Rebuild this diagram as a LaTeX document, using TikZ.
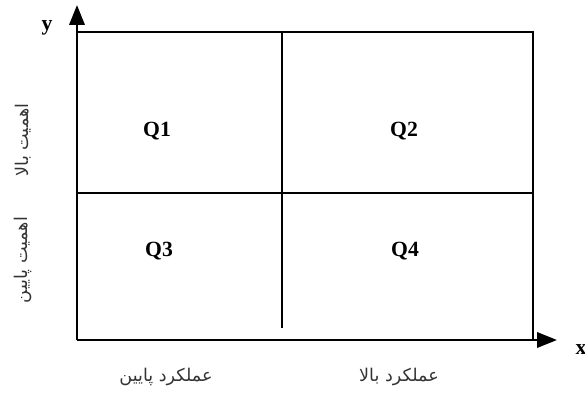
\documentclass[tikz,border=0pt]{standalone}
\usepackage{fontspec}
\setmainfont{Liberation Serif}
\newfontfamily\arabicfont[Script=Arabic]{DejaVu Sans}
\TeXXeTstate=1
\usetikzlibrary{arrows.meta}

\tikzset{
  quad/.style={font=\fontsize{18.5}{22}\selectfont\bfseries},
  axlabel/.style={font=\fontsize{18.5}{22}\selectfont\bfseries},
  fa/.style={font=\arabicfont\fontsize{15}{18}\selectfont, text=black!80},
}

\begin{document}
\begin{tikzpicture}[x=0.03cm, y=-0.03cm, >={Triangle[length=17pt,width=13pt]}]
  \useasboundingbox (0,0) rectangle (585,394);

  % نقاط اصلی
  \coordinate (O) at (77,340);
  \coordinate (Ytip) at (77,5);
  \coordinate (Xtip) at (557,340);
  \coordinate (TL) at (77,32);
  \coordinate (TR) at (533,32);
  \coordinate (BR) at (533,340);
  \coordinate (ML) at (77,193);
  \coordinate (MR) at (533,193);
  \coordinate (MT) at (282,32);
  \coordinate (MB) at (282,328);

  % محورها
  \draw[line width=2.2pt, ->] (O) -- (Ytip);
  \draw[line width=2.2pt, ->] (O) -- (Xtip);
  \node[axlabel] (ylab) at (47,28) {y};
  \node[axlabel] (xlab) at (581,350) {x};

  % قاب بیرونی
  \draw[line width=1.9pt] (TL) -- (TR) -- (BR);

  % خطوط میانی
  \draw[line width=1.3pt] (ML) -- (MR);
  \draw[line width=1.3pt] (MT) -- (MB);

  % ربع‌ها
  \node[quad] (q1) at (157,131) {Q1};
  \node[quad] (q2) at (404,131) {Q2};
  \node[quad] (q3) at (159,251) {Q3};
  \node[quad] (q4) at (405,251) {Q4};

  % برچسب‌های محور x
  \node[fa] (lowperf) at (166,377) {\beginR عملکرد پایین\endR};
  \node[fa] (highperf) at (399,377) {\beginR عملکرد بالا\endR};

  % برچسب‌های محور y
  \node[fa, rotate=90] (highimp) at (23,140) {\beginR اهمیت بالا\endR};
  \node[fa, rotate=90] (lowimp) at (23,260) {\beginR اهمیت پایین\endR};
\end{tikzpicture}
\end{document}
